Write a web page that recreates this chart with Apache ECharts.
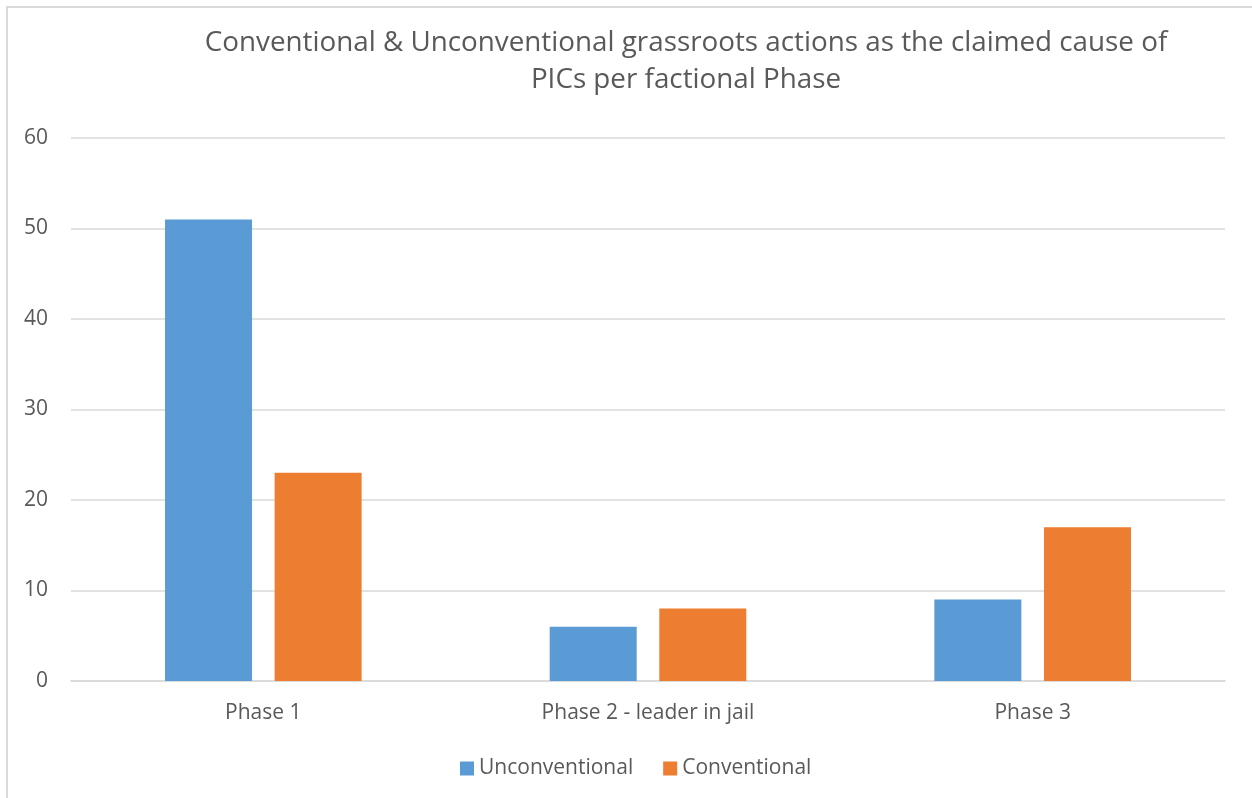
<!DOCTYPE html>
<html lang="en">
<head>
  <meta charset="UTF-8">
  <title>Grassroots actions per factional phase</title>
  <script src="https://cdn.jsdelivr.net/npm/echarts@6/dist/echarts.min.js"></script>
  <style>
    html, body {
      margin: 0;
      padding: 0;
      background: #fff;
      overflow: hidden;
    }
    #frame {
      position: absolute;
      left: 6px;
      top: 6px;
      width: 1280px;
      height: 820px;
      border: 2px solid #d9d9d9;
    }
    #chart {
      position: absolute;
      left: 0;
      top: 0;
      width: 1252px;
      height: 798px;
    }
  </style>
</head>
<body>
  <div id="frame"></div>
  <div id="chart"></div>

  <script>
    // data
    const phases = ['Phase 1', 'Phase 2 - leader in jail', 'Phase 3'];
    const unconventional = [51, 6, 9];
    const conventional = [23, 8, 17];
    const yTicks = { min: 0, max: 60, interval: 10 };

    const textColor = '#595959';
    const fontFamily = "'Open Sans', 'Liberation Sans', sans-serif";

    const chart = echarts.init(document.getElementById('chart'));
    chart.setOption({
      backgroundColor: 'transparent',
      animation: false,
      title: {
        text: 'Conventional & Unconventional grassroots actions as the claimed cause of\nPICs per factional Phase',
        left: 681,
        top: 20,
        textAlign: 'center',
        textStyle: {
          color: textColor,
          fontFamily: fontFamily,
          fontWeight: 'normal',
          fontSize: 27.8,
          lineHeight: 37
        }
      },
      legend: {
        bottom: 14,
        left: 455,
        itemWidth: 14,
        itemHeight: 14,
        itemGap: 30,
        icon: 'rect',
        textStyle: { color: textColor, fontFamily: fontFamily, fontSize: 21 },
        data: ['Unconventional', 'Conventional']
      },
      grid: { left: 71, right: 27, top: 138, bottom: 117 },
      xAxis: {
        type: 'category',
        data: phases,
        axisTick: { show: false },
        axisLine: { show: true, lineStyle: { color: '#d9d9d9', width: 1.5 } },
        axisLabel: { color: textColor, fontFamily: fontFamily, fontSize: 21, margin: 22 }
      },
      yAxis: {
        type: 'value',
        min: yTicks.min,
        max: yTicks.max,
        interval: yTicks.interval,
        axisLine: { show: false },
        axisTick: { show: false },
        axisLabel: { color: textColor, fontFamily: fontFamily, fontSize: 21, margin: 23 },
        splitLine: { lineStyle: { color: '#d9d9d9', width: 1.5 } }
      },
      series: [
        {
          name: 'Unconventional',
          type: 'bar',
          data: unconventional,
          barWidth: 87,
          barGap: '26%',
          itemStyle: { color: '#5b9bd5' }
        },
        {
          name: 'Conventional',
          type: 'bar',
          data: conventional,
          barWidth: 87,
          itemStyle: { color: '#ed7d31' }
        }
      ]
    });
  </script>
</body>
</html>
